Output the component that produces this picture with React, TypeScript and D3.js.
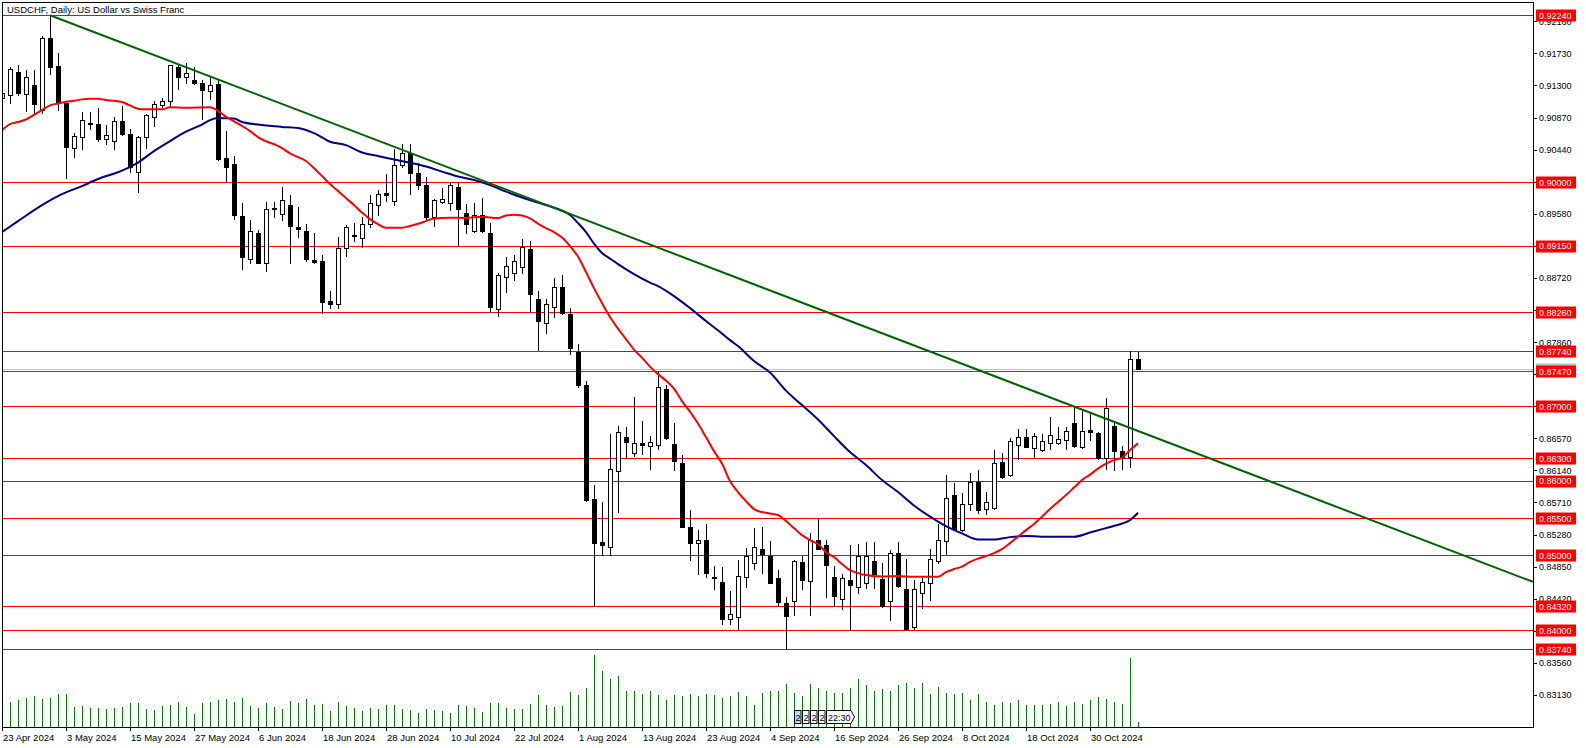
import React from 'react';
import * as d3 from 'd3';

// ---------- DATA (USDCHF daily) ----------
const opens = [
  0.91130,0.91167,0.91479,0.91180,0.91305,0.90969,0.91931,0.91559,0.91059,0.90456,
  0.90612,0.90788,0.90782,0.90585,0.90558,0.90818,0.90648,0.90142,0.90603,0.90872,
  0.91032,0.91086,0.91550,0.91416,0.91372,0.91327,0.91220,0.91314,0.90322,0.90246,
  0.89549,0.88968,0.89317,0.88915,0.89656,0.89571,0.89692,0.89397,0.89343,0.88955,
  0.88941,0.88409,0.88365,0.89116,0.89290,0.89250,0.89437,0.89700,0.89857,0.89754,
  0.90228,0.90389,0.90125,0.89960,0.89531,0.89732,0.89730,0.89933,0.89585,0.89352,
  0.89558,0.89317,0.88298,0.88735,0.88780,0.88869,0.89106,0.88436,0.88118,0.88325,
  0.88597,0.88235,0.87725,0.87279,0.85751,0.85175,0.85116,0.86134,0.86582,0.86368,
  0.86506,0.86461,0.86485,0.87225,0.86492,0.86233,0.85376,0.85161,0.85205,0.84708,
  0.84642,0.84142,0.84177,0.84713,0.84893,0.85085,0.84991,0.84696,0.84357,0.84392,
  0.84910,0.84660,0.85201,0.85136,0.84705,0.84418,0.84669,0.84579,0.84625,0.84924,
  0.84687,0.84392,0.85035,0.84553,0.84035,0.84499,0.84625,0.84928,0.85199,0.85809,
  0.85346,0.85684,0.85987,0.85617,0.85630,0.86247,0.86073,0.86475,0.86590,0.86435,
  0.86408,0.86502,0.86502,0.86546,0.86770,0.86456,0.86680,0.86636,0.86301,0.86734,
  0.86402,0.86322,0.87628
];
const highs = [
  0.91330,0.91550,0.91569,0.91506,0.91506,0.91961,0.92240,0.91738,0.91070,0.90665,
  0.90943,0.90943,0.90996,0.90764,0.90872,0.91023,0.90719,0.90621,0.90916,0.91086,
  0.91134,0.91577,0.91569,0.91596,0.91550,0.91372,0.91408,0.91381,0.90688,0.90353,
  0.89719,0.89495,0.89361,0.89736,0.89736,0.89933,0.89826,0.89665,0.89441,0.89317,
  0.89026,0.88543,0.89267,0.89424,0.89451,0.89539,0.89826,0.89897,0.90112,0.90443,
  0.90514,0.90514,0.90259,0.90067,0.89780,0.89924,0.90011,0.89987,0.89709,0.89719,
  0.89786,0.89451,0.88780,0.88995,0.89022,0.89240,0.89213,0.88543,0.88436,0.88717,
  0.88758,0.88315,0.87833,0.87333,0.85943,0.85715,0.86626,0.86734,0.86724,0.87122,
  0.86801,0.86595,0.87475,0.87279,0.86770,0.86341,0.85607,0.85339,0.85420,0.84857,
  0.84839,0.84526,0.84937,0.85098,0.85366,0.85375,0.85188,0.84803,0.84445,0.84937,
  0.84991,0.85303,0.85483,0.85205,0.84857,0.84750,0.85142,0.85152,0.85179,0.85179,
  0.84893,0.85071,0.85179,0.84955,0.84669,0.84713,0.85081,0.85427,0.86077,0.85965,
  0.85831,0.86099,0.86144,0.85845,0.86412,0.86368,0.86573,0.86693,0.86693,0.86644,
  0.86626,0.86850,0.86716,0.86724,0.86992,0.86939,0.86925,0.86657,0.87105,0.86770,
  0.86465,0.87740,0.87730
];
const lows = [
  0.91050,0.91067,0.91167,0.90960,0.90916,0.90925,0.91452,0.90969,0.90062,0.90343,
  0.90451,0.90711,0.90558,0.90514,0.90451,0.90630,0.90138,0.89870,0.90460,0.90755,
  0.91006,0.91014,0.91255,0.91335,0.91320,0.90853,0.91121,0.90299,0.90022,0.89504,
  0.88842,0.88923,0.88915,0.88807,0.89539,0.89495,0.88923,0.89263,0.88941,0.88915,
  0.88252,0.88319,0.88311,0.89012,0.89217,0.89129,0.89405,0.89566,0.89754,0.89700,
  0.90209,0.89843,0.89914,0.89512,0.89414,0.89719,0.89636,0.89160,0.89317,0.89338,
  0.89338,0.88266,0.88208,0.88534,0.88691,0.88789,0.88279,0.87752,0.87984,0.88199,
  0.88240,0.87699,0.87252,0.85732,0.84320,0.85000,0.85000,0.85585,0.86301,0.86335,
  0.86358,0.86161,0.86429,0.86555,0.86144,0.85380,0.84937,0.84750,0.84705,0.84553,
  0.84079,0.84079,0.84008,0.84571,0.84821,0.84767,0.84628,0.84320,0.83740,0.84204,
  0.84553,0.84204,0.85085,0.84437,0.84320,0.84284,0.84000,0.84491,0.84558,0.84558,
  0.84311,0.84133,0.84571,0.84000,0.84008,0.84294,0.84401,0.84893,0.85018,0.85339,
  0.85330,0.85607,0.85563,0.85550,0.85625,0.86033,0.86070,0.86287,0.86448,0.86322,
  0.86403,0.86421,0.86495,0.86421,0.86456,0.86435,0.86546,0.86295,0.86153,0.86144,
  0.86153,0.86188,0.87494
];
const closes = [
  0.91200,0.91515,0.91201,0.91408,0.91050,0.91931,0.91550,0.91059,0.90478,0.90621,
  0.90835,0.90795,0.90585,0.90630,0.90818,0.90648,0.90209,0.90612,0.90898,0.91050,
  0.91090,0.91569,0.91416,0.91465,0.91327,0.91238,0.91309,0.90309,0.90201,0.89566,
  0.89003,0.89343,0.88923,0.89638,0.89638,0.89759,0.89419,0.89370,0.88976,0.88932,
  0.88400,0.88365,0.89116,0.89405,0.89276,0.89437,0.89719,0.89839,0.89834,0.90228,
  0.90389,0.90121,0.89960,0.89539,0.89763,0.89776,0.89961,0.89638,0.89437,0.89558,
  0.89352,0.88325,0.88754,0.88874,0.88941,0.89129,0.88503,0.88145,0.88365,0.88597,
  0.88244,0.87779,0.87287,0.85742,0.85169,0.85134,0.86153,0.86649,0.86523,0.86502,
  0.86475,0.86515,0.87252,0.86573,0.86260,0.85384,0.85161,0.85201,0.84759,0.84702,
  0.84142,0.84213,0.84719,0.84991,0.85108,0.85022,0.84632,0.84378,0.84187,0.84920,
  0.84669,0.85205,0.85089,0.84874,0.84455,0.84692,0.84606,0.84987,0.84991,0.84750,
  0.84320,0.85035,0.84589,0.84016,0.84548,0.84642,0.84947,0.85205,0.85766,0.85360,
  0.85688,0.85987,0.85607,0.85711,0.86233,0.86046,0.86528,0.86590,0.86456,0.86603,
  0.86528,0.86617,0.86555,0.86662,0.86465,0.86662,0.86653,0.86301,0.86971,0.86402,
  0.86301,0.87628,0.87500
];
const volumes = [
  26000,24700,26700,29300,31300,28300,29300,33300,33300,20300,
  21300,18700,19300,18300,19300,20300,24300,24300,18300,17300,
  21300,22300,25300,20300,13300,24300,25300,27300,28300,25300,
  29300,21300,19300,24300,20300,18300,26300,24300,28300,22300,
  23300,16300,25300,21300,19300,16300,19300,18300,22300,22300,
  18300,17300,14300,18300,17300,16300,14300,22300,21300,19300,
  15300,24300,24300,19300,18300,18300,23300,32300,22300,20300,
  21300,35300,32300,39300,72300,56300,48300,51300,36300,36300,
  33300,36300,32300,27300,32300,31300,33300,31300,33300,32300,
  29300,31300,35300,31300,22300,34300,36300,36300,43300,34300,
  31300,43300,39300,36300,34300,34300,39300,48300,42300,36300,
  38300,36300,42300,44300,39300,44300,33300,40300,34300,33300,
  34300,27300,33300,25300,22300,25300,24300,27300,22300,22300,
  22300,23300,25300,21300,25300,23300,27300,30300,28300,25300,
  23300,69300,5300
];

// moving averages: [bar index, price]
const maFast: [number, number][] = [
  [0,0.90701],[1,0.90782],[2,0.90809],[3,0.90845],[4,0.90906],[5,0.90969],[6,0.91032],[7,0.91059],
  [8,0.91081],[9,0.91094],[10,0.91113],[11,0.91121],[12,0.91121],[13,0.91104],[14,0.91094],[15,0.91077],
  [16,0.91032],[17,0.90987],[18,0.90979],[20,0.90979],[21,0.91006],[23,0.91000],[26,0.91006],[27,0.90960],
  [28,0.90880],[29,0.90818],[31,0.90688],[32,0.90608],[35,0.90460],[36,0.90389],[38,0.90286],[39,0.90192],
  [40,0.90085],[41,0.89978],[42,0.89884],[43,0.89790],[44,0.89696],[45,0.89595],[46,0.89508],[47,0.89441],
  [48,0.89392],[50,0.89392],[51,0.89415],[52,0.89445],[53,0.89481],[54,0.89515],[56,0.89526],[58,0.89524],
  [60,0.89539],[62,0.89522],[63,0.89555],[64,0.89566],[65,0.89555],[66,0.89518],[67,0.89448],[68,0.89388],
  [69,0.89334],[70,0.89260],[71,0.89146],[72,0.89006],[73,0.88798],[74,0.88583],[75,0.88382],[76,0.88195],
  [77,0.88040],[78,0.87900],[79,0.87759],[80,0.87652],[81,0.87531],[82,0.87430],[83,0.87343],[84,0.87236],
  [85,0.87069],[86,0.86928],[87,0.86767],[88,0.86586],[89,0.86398],[90,0.86231],[91,0.85996],[92,0.85849],
  [93,0.85728],[94,0.85621],[95,0.85581],[96,0.85561],[97,0.85541],[98,0.85460],[99,0.85366],[100,0.85272],
  [101,0.85205],[102,0.85152],[103,0.85044],[104,0.84978],[105,0.84884],[106,0.84803],[107,0.84763],[108,0.84736],
  [110,0.84716],[112,0.84723],[114,0.84713],[116,0.84713],[117,0.84713],[118,0.84776],[119,0.84817],[120,0.84850],
  [121,0.84914],[122,0.84957],[123,0.84991],[124,0.85031],[125,0.85085],[126,0.85165],[127,0.85252],[128,0.85339],
  [129,0.85420],[130,0.85520],[131,0.85621],[132,0.85715],[133,0.85809],[134,0.85909],[135,0.86010],[136,0.86083],
  [137,0.86164],[138,0.86231],[139,0.86278],[140,0.86311],[141,0.86412],[142,0.86502]
];
const maSlow: [number, number][] = [
  [0,0.89334],[2,0.89481],[5,0.89696],[7,0.89817],[10,0.89951],[12,0.90045],[15,0.90158],[17,0.90266],
  [19,0.90420],[21,0.90554],[23,0.90681],[25,0.90775],[26,0.90835],[27,0.90862],[29,0.90856],[30,0.90809],
  [32,0.90775],[35,0.90744],[37,0.90728],[39,0.90661],[41,0.90545],[43,0.90500],[45,0.90400],[47,0.90353],
  [49,0.90306],[51,0.90263],[53,0.90212],[55,0.90145],[57,0.90078],[59,0.90031],[61,0.89964],[63,0.89877],
  [65,0.89797],[67,0.89729],[69,0.89662],[71,0.89562],[72,0.89455],[73,0.89334],[74,0.89180],[75,0.89055],
  [76,0.88979],[77,0.88905],[79,0.88771],[81,0.88657],[82,0.88610],[84,0.88476],[86,0.88315],[88,0.88141],
  [90,0.87973],[91,0.87886],[92,0.87806],[94,0.87605],[96,0.87451],[98,0.87209],[100,0.87015],[102,0.86821],
  [104,0.86599],[106,0.86385],[108,0.86211],[110,0.86010],[112,0.85849],[114,0.85668],[116,0.85520],[118,0.85393],
  [120,0.85295],[122,0.85212],[124,0.85212],[126,0.85245],[128,0.85259],[131,0.85250],[134,0.85250],[136,0.85306],
  [138,0.85366],[140,0.85427],[141,0.85473],[142,0.85571]
];

const levelLines = [0.92240,0.90000,0.89150,0.88260,0.87740,0.87470,0.87000,0.86300,0.86000,0.85500,0.85000,0.84320,0.84000,0.83740];
const priceTicks = [0.92160,0.91730,0.91300,0.90870,0.90440,0.90010,0.89580,0.89150,0.88720,0.88290,0.87860,0.87430,0.87000,0.86570,0.86140,0.85710,0.85280,0.84850,0.84420,0.83990,0.83560,0.83130];
const bidPrice = 0.87500;
const trendStart: [number, number] = [6, 0.92240];
const trendEnd: [number, number] = [142, 0.86668];
const title = 'USDCHF, Daily:  US Dollar vs Swiss Franc';
const markerLabels = ['2','2','2','2'];
const markerTime = '22:30';

// ---------- LAYOUT ----------
const W = 1586, H = 748;
const L = 2, R = 1533, T = 2, B = 727;
const FONT = '"Liberation Sans", Arial, sans-serif';

const dates = d3.timeDay
  .range(new Date(2024, 3, 23), new Date(2024, 10, 8))
  .filter((d) => d.getDay() !== 0 && d.getDay() !== 6)
  .slice(0, opens.length);
const fmt = d3.timeFormat('%-d %b %Y');

const x = d3.scaleLinear().domain([0, 142]).range([2, 1138]);
const y = d3.scaleLinear().domain([0.9224, 0.8374]).range([15.3, 649.4]);
const vy = d3.scaleLinear().domain([0, 100000]).range([B, B - 100]);
const px = (v: number) => Math.round(v) + 0.5;

export default function App() {
  const lineGen = d3
    .line<[number, number]>()
    .x((d) => x(d[0]))
    .y((d) => y(d[1]))
    .curve(d3.curveMonotoneX);

  const tx0 = x(trendStart[0]), ty0 = y(trendStart[1]);
  const tx1 = x(trendEnd[0]), ty1 = y(trendEnd[1]);
  const slope = (ty1 - ty0) / (tx1 - tx0);
  const tyR = ty0 + slope * (R - tx0);

  const tickIdx = d3.range(0, opens.length, 8);

  // tick labels fully covered by a level label are not drawn (hidden in the original too)
  const covered = (p: number) =>
    levelLines.some((q) => Math.abs(y(q) - y(p)) < 4) || Math.abs(y(bidPrice) - y(p)) < 4;

  return (
    <svg
      width={W}
      height={H}
      style={{ position: 'absolute', left: 0, top: 0, background: '#fff', display: 'block' }}
      fontFamily={FONT}
    >
      <defs>
        <clipPath id="plot">
          <rect x={L + 1} y={T + 1} width={R - L - 1} height={B - T - 1} />
        </clipPath>
      </defs>
      <rect x={0} y={0} width={W} height={H} fill="#fff" />

      <g clipPath="url(#plot)">
        {/* volumes */}
        {volumes.map((v, i) => (
          <line key={'v' + i} x1={x(i) + 0.5} x2={x(i) + 0.5} y1={B} y2={Math.round(vy(v))} stroke="#008000" strokeWidth={1} />
        ))}
        {/* level lines */}
        {levelLines.map((p) => (
          <line key={'l' + p} x1={L} x2={R} y1={px(y(p))} y2={px(y(p))} stroke="#ff0000" strokeWidth={1} />
        ))}
        <line x1={L} x2={R} y1={px(y(bidPrice))} y2={px(y(bidPrice))} stroke="#c0c0c0" strokeWidth={1} />

        {/* candles */}
        {opens.map((o, i) => {
          const c = closes[i];
          const cx = x(i);
          const yo = Math.round(y(o)), yc = Math.round(y(c));
          const top = Math.min(yo, yc), bot = Math.max(yo, yc);
          const bull = c >= o;
          return (
            <g key={'c' + i}>
              <line x1={cx + 0.5} x2={cx + 0.5} y1={Math.round(y(highs[i]))} y2={Math.round(y(lows[i])) + 1} stroke="#000" strokeWidth={1} />
              {bot - top < 1 ? (
                <line x1={cx - 2} x2={cx + 3} y1={top + 0.5} y2={top + 0.5} stroke="#000" strokeWidth={1} />
              ) : (
                <rect x={cx - 1.5} y={top + 0.5} width={4} height={bot - top} fill={bull ? '#fff' : '#000'} stroke="#000" strokeWidth={1} />
              )}
            </g>
          );
        })}

        {/* moving averages */}
        <path d={lineGen(maSlow) || ''} fill="none" stroke="#00008b" strokeWidth={2} />
        <path d={lineGen(maFast) || ''} fill="none" stroke="#ff0000" strokeWidth={2} />

        {/* trend line */}
        <line x1={tx0} y1={ty0} x2={R} y2={tyR} stroke="#006400" strokeWidth={2} />
      </g>

      {/* frame */}
      <rect x={L + 0.5} y={T + 0.5} width={R - L} height={B - T} fill="none" stroke="#000" strokeWidth={1} />

      {/* title */}
      <text x={7} y={13} fontSize={9.5} fill="#000">{title}</text>

      {/* price axis */}
      {priceTicks.map((p) => (
        <g key={'t' + p}>
          <line x1={R} x2={R + 4} y1={px(y(p))} y2={px(y(p))} stroke="#000" />
          {!covered(p) && (
            <text x={R + 6} y={y(p) + 3.5} fontSize={9} fill="#000">{p.toFixed(5)}</text>
          )}
        </g>
      ))}
      <rect x={R + 3} y={Math.round(y(bidPrice)) - 5.5} width={40} height={12} fill="#c0c0c0" />
      {levelLines.map((p) => (
        <g key={'lab' + p}>
          <rect x={R + 3} y={Math.round(y(p)) - 5.5} width={40} height={12} fill="#ff0000" />
          <text x={R + 6} y={y(p) + 3.5} fontSize={9} fill="#fff">{p.toFixed(5)}</text>
        </g>
      ))}

      {/* time axis */}
      {tickIdx.map((i) => (
        <g key={'d' + i}>
          <line x1={x(i) + 0.5} x2={x(i) + 0.5} y1={B} y2={B + 4} stroke="#000" />
          <text x={x(i) + 1} y={741} fontSize={9.5} fill="#000">{fmt(dates[i])}</text>
        </g>
      ))}

      {/* marker boxes near bottom */}
      {markerLabels.map((s, k) => (
        <g key={'m' + k}>
          <rect x={794.5 + k * 8} y={710.5} width={6.5} height={13} fill={k === 0 ? '#b0e0f0' : '#fff'} stroke="#000" strokeWidth={1} />
          <text x={798 + k * 8} y={721} fontSize={9} textAnchor="middle" fill="#000">{s}</text>
        </g>
      ))}
      <path d="M826.5,710.5 H851 L854.5,717 L851,723.5 H826.5 Z" fill="#fff" stroke="#000" strokeWidth={1} />
      <text x={828} y={721} fontSize={9} fill="#000">{markerTime}</text>
    </svg>
  );
}
